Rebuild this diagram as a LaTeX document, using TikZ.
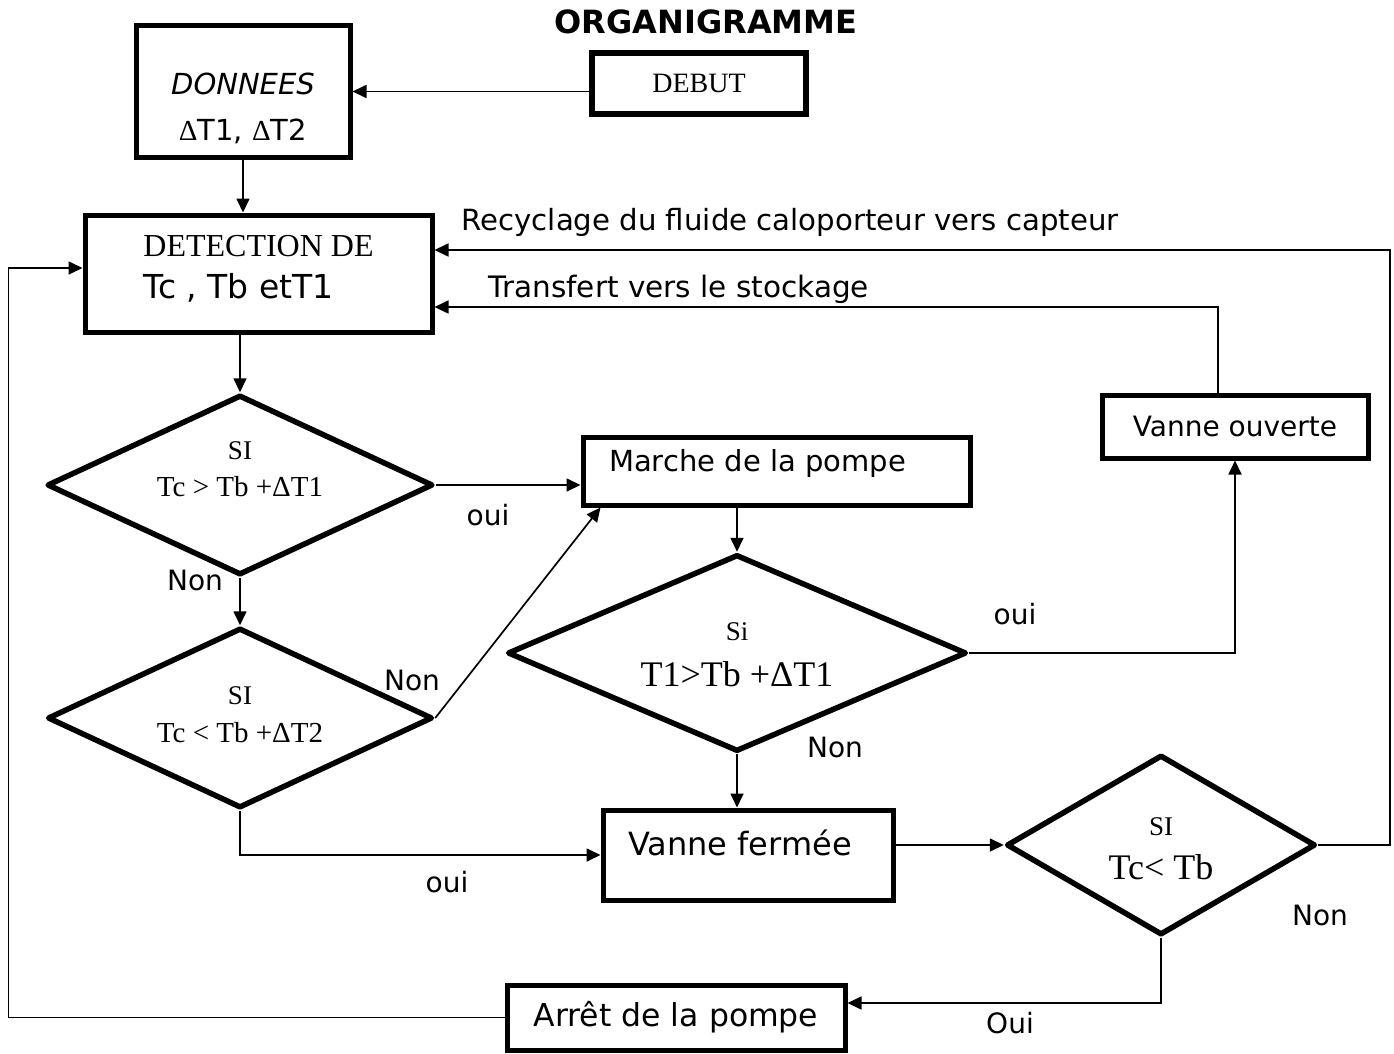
\documentclass[tikz,border=0pt]{standalone}
\usepackage{fontspec}
\setmainfont{Liberation Serif}
\setsansfont{DejaVu Sans}
\usetikzlibrary{shapes.geometric, arrows.meta, calc}
\newcommand{\Lines}[3][0pt]{\raisebox{#1}[0pt][0pt]{\begin{tabular}{@{}#2@{}}#3\end{tabular}}}
\tikzset{
    BoxStyle/.style={draw, rectangle, line width=5pt, fill=white, inner sep=0pt},
    TestStyle/.style={draw, diamond, line width=5.5pt, line join=round, fill=white, inner sep=0pt, aspect=2.1},
    LinkArrow/.style={-{Triangle[length=14pt, width=13pt]}, line width=1.7pt},
    SansText/.style={font=\fontsize{#1}{34}\selectfont\sffamily},
    SansText/.default=28,
    SerifText/.style={font=\fontsize{#1}{34}\selectfont\rmfamily},
    SerifText/.default=29,
    TitleText/.style={font=\fontsize{32}{34}\selectfont\sffamily\bfseries}
}

\begin{document}
\begin{tikzpicture}[x=1pt, y=-1pt]
    \useasboundingbox[fill=white] (0,0) rectangle (1394,1054);

    % titre
    \node[TitleText] (titre) at (706,22) {ORGANIGRAMME};

    % --- blocs ---
    \node[BoxStyle, line width=6.5pt, minimum width=214pt, minimum height=61pt, SerifText=28] (debut) at (699,83.5) {DEBUT};
    \node[BoxStyle, minimum width=214pt, minimum height=131pt, SansText=29] (donnees) at (243,91.5)
        {\Lines[-25.7pt]{c}{\itshape DONNEES\\[12pt] {\rmfamily Δ}T1, {\rmfamily Δ}T2}};
    \node[BoxStyle, minimum width=347pt, minimum height=117pt, SansText=33] (detect) at (258.5,273.5)
        {\Lines[-3.5pt]{l}{\rmfamily\fontsize{32}{34}\selectfont DETECTION DE\\[6pt] Tc , Tb etT1}};
    \node[BoxStyle, minimum width=387pt, minimum height=68pt, SansText=29] (marche) at (776.5,471)
        {\Lines{c}{Marche de la pompe\hspace*{38pt}}};
    \node[BoxStyle, minimum width=266pt, minimum height=63pt, SansText=28] (vouv) at (1235,426.5) {Vanne ouverte};
    \node[BoxStyle, minimum width=290pt, minimum height=90pt, SansText=32] (vferm) at (748,855)
        {\Lines[1pt]{c}{Vanne fermée\hspace*{16pt}}};
    \node[BoxStyle, minimum width=338pt, minimum height=65pt, SansText=31.5] (arret) at (676,1017.5) {Arrêt de la pompe};

    % --- tests ---
    \node[TestStyle, minimum width=386pt, minimum height=180pt, SerifText] (test1) at (240,485)
        {\Lines[7.5pt]{c}{\fontsize{27}{34}\selectfont SI\\[3pt] Tc > Tb +ΔT1}};
    \node[TestStyle, minimum width=385pt, minimum height=180pt, SerifText] (test2) at (240,718)
        {\Lines[-5pt]{c}{\fontsize{27}{34}\selectfont SI\\[4pt] Tc < Tb +ΔT2}};
    \node[TestStyle, minimum width=459pt, minimum height=197pt, SerifText] (test3) at (737,653)
        {\Lines[-10pt]{c}{\fontsize{27}{34}\selectfont Si\\[10.5pt] \fontsize{36}{34}\selectfont T1>Tb +ΔT1}};
    \node[TestStyle, minimum width=309pt, minimum height=180pt, SerifText] (test4) at (1161,845)
        {\Lines[-11.5pt]{c}{\fontsize{27}{34}\selectfont SI\\[9pt] \fontsize{36}{34}\selectfont Tc< Tb}};

    % --- liaisons ---
    \draw[LinkArrow] (debut.west |- donnees.east) -- (donnees.east);
    \draw[LinkArrow] (donnees.south) -- (donnees.south |- detect.north);
    \draw[LinkArrow] (test1.north |- detect.south) -- (test1.north);
    \draw[LinkArrow] (test1.east) -- (test1.east -| marche.west);
    \draw[LinkArrow] (test1.south) -- (test2.north);
    \draw[LinkArrow] (test2.east) -- ([xshift=20pt]marche.south west);
    \draw[LinkArrow] (test2.south) |- (vferm.west);
    \draw[LinkArrow] (test3.north |- marche.south) -- (test3.north);
    \draw[LinkArrow] (test3.east) -| (vouv.south);
    \draw[LinkArrow] (test3.south) -- (test3.south |- vferm.north);
    \draw[LinkArrow] (test4.west -| vferm.east) -- (test4.west);
    \draw[LinkArrow] (test4.east) -- ++(72,0) |- ([yshift=23.5pt]detect.east);
    \draw[LinkArrow] ([xshift=-17pt]vouv.north) |- ([yshift=-33.5pt]detect.east);
    \draw[LinkArrow] (test4.south) |- ([yshift=14.5pt]arret.east);
    \draw[LinkArrow] (arret.west) -- ++(-496,0) |- ([yshift=5.5pt]detect.west);

    % --- etiquettes ---
    \node[SansText] (oui1) at (488,515) {oui};
    \node[SansText] (non1) at (195,580) {Non};
    \node[SansText] (non2) at (412,680) {Non};
    \node[SansText] (oui2) at (447,882) {oui};
    \node[SansText] (oui3) at (1015,614) {oui};
    \node[SansText] (non3) at (835,747) {Non};
    \node[SansText] (non4) at (1320,915) {Non};
    \node[SansText] (oui4) at (1010,1023) {Oui};
    \node[SansText=29.2, anchor=west] (recycl) at (458,222) {Recyclage du fluide caloporteur vers capteur};
    \node[SansText=29.5, anchor=west] (transf) at (485,289) {Transfert vers le stockage};
\end{tikzpicture}
\end{document}
